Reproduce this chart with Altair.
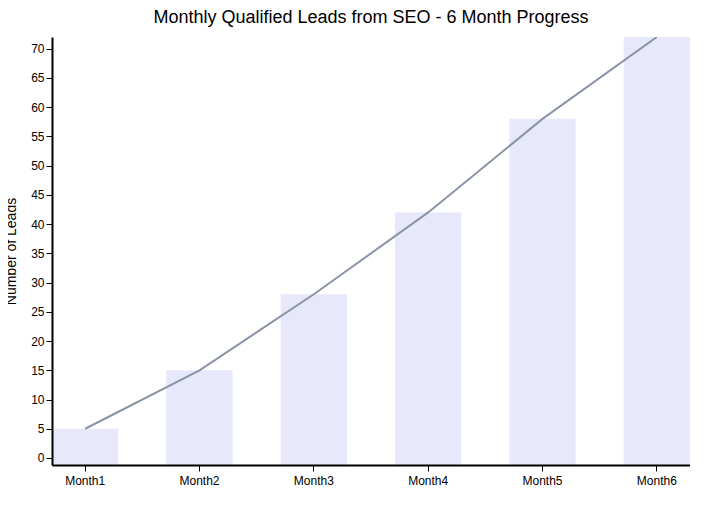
import altair as alt
import pandas as pd

months = ["Month1", "Month2", "Month3", "Month4", "Month5", "Month6"]
leads = [5, 15, 28, 42, 58, 72]

df = pd.DataFrame({"month": months, "leads": leads})

x = alt.X("month:N", sort=months, title=None,
          scale=alt.Scale(paddingInner=0.42, paddingOuter=0.0),
          axis=alt.Axis(labelAngle=0, domainWidth=2, domainColor="#000", tickColor="#000",
                        tickSize=6, labelFontSize=12, labelPadding=4, zindex=1))
y = alt.Y("leads:Q", title="Number of Leads",
          scale=alt.Scale(domain=[-1.2, 72], nice=False, zero=False),
          axis=alt.Axis(values=list(range(0, 71, 5)), grid=False, domainWidth=2,
                        domainColor="#000", tickColor="#000", tickSize=6,
                        labelFontSize=12, titleFontSize=14, titleFontWeight="normal",
                        titleColor="#000", titlePadding=12, zindex=1))

base = alt.Chart(df)
bars = base.mark_bar(color="#e8e8fc", clip=True).encode(x=x, y=y, y2=alt.datum(-1.2))
line = base.mark_line(color="#8a94a6", strokeWidth=2, clip=True).encode(x=x, y=y)

chart = (
    (bars + line)
    .properties(
        width=638, height=428,
        title=alt.TitleParams("Monthly Qualified Leads from SEO - 6 Month Progress",
                              fontSize=18, fontWeight="normal", offset=10),
        autosize=alt.AutoSizeParams(type="none"),
        padding={"left": 44, "top": 29, "right": 0, "bottom": 30},
    )
    .configure(font="Liberation Sans")
    .configure_view(stroke=None)
)

chart.save("out.html", embed_options={"renderer": "svg", "actions": False})
